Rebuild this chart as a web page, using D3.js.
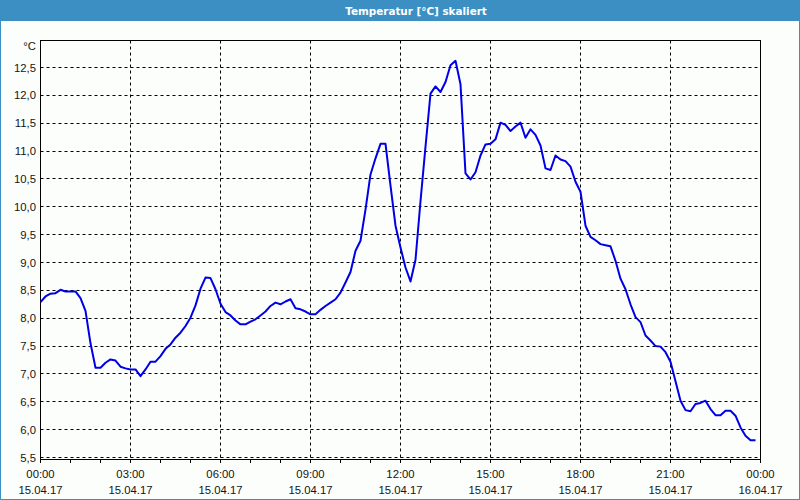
<!DOCTYPE html>
<html>
<head>
<meta charset="utf-8">
<script src="https://cdn.jsdelivr.net/npm/d3@7/dist/d3.min.js"></script>
<style>
  html, body { margin: 0; padding: 0; background: #fcfefc; }
  svg { display: block; }
</style>
</head>
<body>
<svg id="chart" width="800" height="500"></svg>
<script>
const titleText = "Temperatur [°C] skaliert";
const unitLabel = "°C";

// minutes since 15.04.17 00:00 (10-minute readings)
const minutes = [
  0,10,20,30,40,50,60,70,80,90,100,110,120,130,140,150,160,170,180,190,
  200,210,220,230,240,250,260,270,280,290,300,310,320,330,340,350,360,370,380,390,
  400,410,420,430,440,450,460,470,480,490,500,510,520,530,540,550,560,570,580,590,
  600,610,620,630,640,650,660,670,680,690,700,710,720,730,740,750,760,770,780,790,
  800,810,820,830,840,850,860,870,880,890,900,910,920,930,940,950,960,970,980,990,
  1000,1010,1020,1030,1040,1050,1060,1070,1080,1090,1100,1110,1120,1130,1140,1150,1160,1170,1180,1190,
  1200,1210,1220,1230,1240,1250,1260,1270,1280,1290,1300,1310,1320,1330,1340,1350,1360,1370,1380,1390,
  1400,1410,1420,1430
];

const temps = [
  8.29, 8.39, 8.44, 8.45, 8.51, 8.48, 8.48, 8.48, 8.36, 8.13,
  7.55, 7.11, 7.11, 7.20, 7.26, 7.24, 7.13, 7.10, 7.08, 7.08,
  6.96, 7.08, 7.22, 7.22, 7.32, 7.45, 7.53, 7.65, 7.74, 7.86,
  8.01, 8.23, 8.53, 8.73, 8.72, 8.52, 8.26, 8.11, 8.05, 7.96,
  7.89, 7.89, 7.94, 7.98, 8.05, 8.12, 8.22, 8.28, 8.25, 8.30,
  8.34, 8.18, 8.16, 8.12, 8.07, 8.07, 8.15, 8.22, 8.28, 8.34,
  8.46, 8.64, 8.83, 9.21, 9.39, 9.95, 10.58, 10.87, 11.13, 11.13,
  10.38, 9.66, 9.27, 8.91, 8.66, 9.05, 10.10, 11.08, 12.03, 12.16,
  12.06, 12.24, 12.54, 12.62, 12.20, 10.60, 10.49, 10.62, 10.92, 11.12,
  11.13, 11.21, 11.51, 11.47, 11.36, 11.44, 11.51, 11.24, 11.39, 11.29,
  11.10, 10.69, 10.66, 10.92, 10.85, 10.82, 10.72, 10.45, 10.27, 9.66,
  9.46, 9.40, 9.33, 9.31, 9.29, 9.03, 8.71, 8.52, 8.25, 8.02,
  7.93, 7.69, 7.60, 7.50, 7.49, 7.39, 7.22, 6.87, 6.52, 6.35,
  6.33, 6.46, 6.48, 6.52, 6.37, 6.26, 6.26, 6.34, 6.34, 6.25,
  6.04, 5.89, 5.81, 5.81
];

const yTicks = [5.5, 6.0, 6.5, 7.0, 7.5, 8.0, 8.5, 9.0, 9.5, 10.0, 10.5, 11.0, 11.5, 12.0, 12.5];
const yTickLabels = ["5,5","6,0","6,5","7,0","7,5","8,0","8,5","9,0","9,5","10,0","10,5","11,0","11,5","12,0","12,5"];
const xMajorTicks = [0, 180, 360, 540, 720, 900, 1080, 1260, 1440];
const xTimeLabels = ["00:00","03:00","06:00","09:00","12:00","15:00","18:00","21:00","00:00"];
const xDateLabels = ["15.04.17","15.04.17","15.04.17","15.04.17","15.04.17","15.04.17","15.04.17","15.04.17","16.04.17"];
const xMinorTicks = d3.range(0, 1441, 60);

const W = 800, H = 500;
const plot = { left: 40.5, right: 760.5, top: 40.5, bottom: 459.5 };

const svg = d3.select("#chart");
const font = "'Liberation Sans', Arial, sans-serif";
const textColor = "#141414";
const blue = "#3b8fc3";

// background and window frame
svg.append("rect").attr("x", 0).attr("y", 0).attr("width", W).attr("height", H).attr("fill", "#fcfefc");
svg.append("rect").attr("x", 0).attr("y", 0).attr("width", W).attr("height", 21).attr("fill", blue);
svg.append("rect").attr("x", 0.5).attr("y", 0.5).attr("width", W - 1).attr("height", H - 1)
  .attr("fill", "none").attr("stroke", blue).attr("stroke-width", 1);

svg.append("text").attr("x", 416).attr("y", 15).attr("text-anchor", "middle")
  .attr("font-family", "Tahoma, 'DejaVu Sans', sans-serif").attr("font-weight", "bold").attr("font-size", "10.4px")
  .attr("fill", "#ffffff").text(titleText);

const x = d3.scaleLinear().domain([0, 1440]).range([plot.left, plot.right]);
const y = d3.scaleLinear().domain([5.5, 12.5]).range([457.5, 67.5]);
const px = v => Math.floor(v) + 0.5;

// horizontal gridlines
svg.append("g").selectAll("line").data(yTicks).join("line")
  .attr("x1", plot.left).attr("x2", plot.right)
  .attr("y1", d => px(y(d))).attr("y2", d => px(y(d)))
  .attr("stroke", "#000").attr("stroke-width", 1).attr("stroke-dasharray", "3,3");

// vertical gridlines
svg.append("g").selectAll("line").data(xMajorTicks.slice(1, -1)).join("line")
  .attr("x1", d => px(x(d))).attr("x2", d => px(x(d)))
  .attr("y1", plot.top).attr("y2", plot.bottom)
  .attr("stroke", "#000").attr("stroke-width", 1).attr("stroke-dasharray", "3,3");

// plot frame
svg.append("rect").attr("x", plot.left).attr("y", plot.top)
  .attr("width", plot.right - plot.left).attr("height", plot.bottom - plot.top)
  .attr("fill", "none").attr("stroke", "#000").attr("stroke-width", 1);

// hourly ticks below x axis
svg.append("g").selectAll("line").data(xMinorTicks).join("line")
  .attr("x1", d => px(x(d))).attr("x2", d => px(x(d)))
  .attr("y1", plot.bottom).attr("y2", plot.bottom + 3.5)
  .attr("stroke", "#000").attr("stroke-width", 1);

// y tick labels
svg.append("g").selectAll("text").data(yTicks).join("text")
  .attr("x", 36).attr("y", d => y(d)).attr("dy", "0.36em")
  .attr("text-anchor", "end").attr("font-family", font).attr("font-size", "11.3px")
  .attr("fill", textColor).text((d, i) => yTickLabels[i]);

svg.append("text").attr("x", 36).attr("y", 46).attr("dy", "0.36em")
  .attr("text-anchor", "end").attr("font-family", font).attr("font-size", "11.3px")
  .attr("fill", textColor).text(unitLabel);

// x tick labels
const xl = svg.append("g");
xl.selectAll("text.t").data(xMajorTicks).join("text").attr("class", "t")
  .attr("x", d => x(d)).attr("y", 474).attr("dy", "0.36em")
  .attr("text-anchor", "middle").attr("font-family", font).attr("font-size", "11.3px")
  .attr("fill", textColor).text((d, i) => xTimeLabels[i]);
xl.selectAll("text.d").data(xMajorTicks).join("text").attr("class", "d")
  .attr("x", d => x(d)).attr("y", 490).attr("dy", "0.36em")
  .attr("text-anchor", "middle").attr("font-family", font).attr("font-size", "11.3px")
  .attr("fill", textColor).text((d, i) => xDateLabels[i]);

// temperature line
const data = minutes.map((m, i) => ({ m, v: temps[i] }));
svg.append("path").datum(data)
  .attr("fill", "none").attr("stroke", "#0000e6").attr("stroke-width", 2)
  .attr("stroke-linejoin", "round")
  .attr("d", d3.line().x(d => x(d.m)).y(d => y(d.v)));
</script>
</body>
</html>
